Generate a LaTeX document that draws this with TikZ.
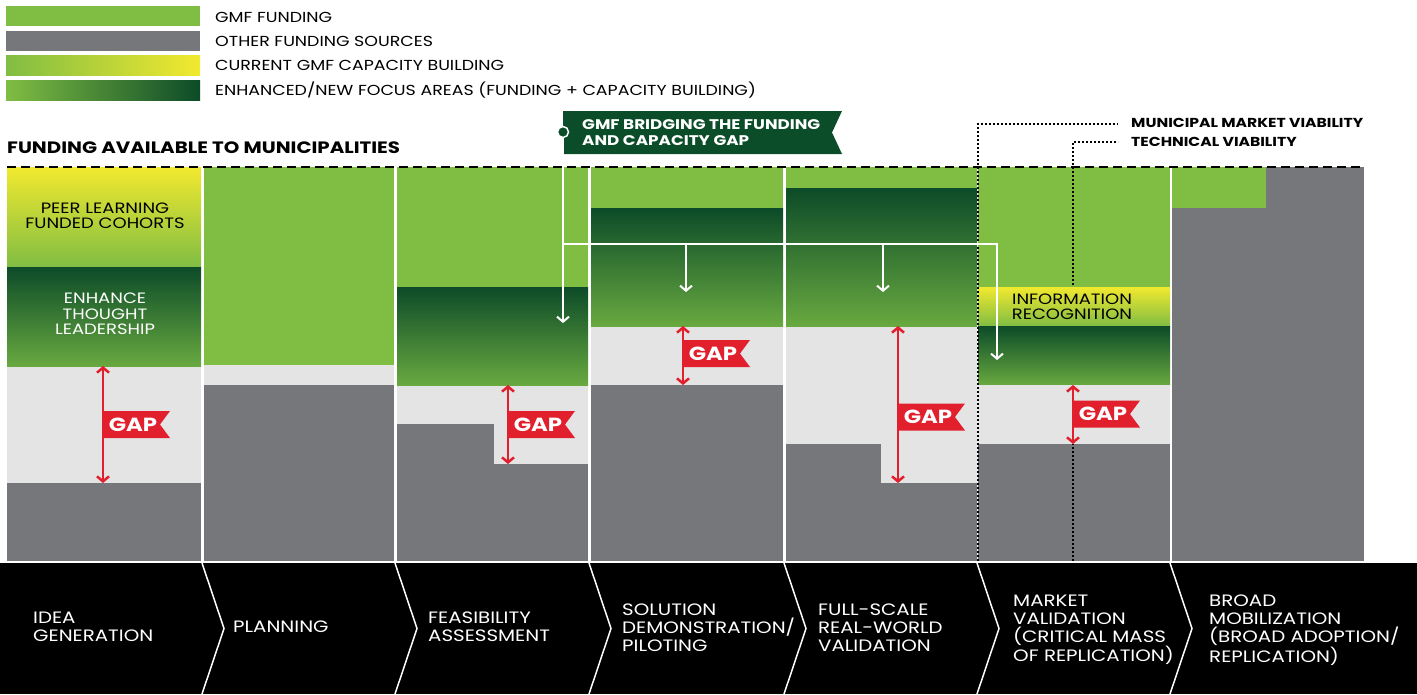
\documentclass[tikz,border=0pt]{standalone}
\usepackage{fontspec}
\setmainfont{Poppins}[FakeStretch=1.2]
\usetikzlibrary{arrows.meta}
\definecolor{gmfgreen}{HTML}{80BD43}
\definecolor{ogray}{HTML}{75777B}
\definecolor{lgray}{HTML}{E4E4E4}
\definecolor{dgreen}{HTML}{0C4B28}
\definecolor{mgreen}{HTML}{68A940}
\definecolor{yel}{HTML}{F2E92F}
\definecolor{gred}{HTML}{E21F2C}
\definecolor{bgreen}{HTML}{0B4D28}
\begin{document}
\begin{tikzpicture}[x=1pt,y=-1pt,
  leg/.style={font=\fontsize{14.5}{16}\selectfont, anchor=west, inner sep=0, text=black},
  lab/.style={font=\fontsize{16.5}{18}\selectfont, text=white, align=left, anchor=west, inner sep=0},
  inlab/.style={font=\fontsize{15}{15.5}\selectfont, align=center, inner sep=0},
  vlab/.style={font=\bfseries\fontsize{13}{15}\selectfont, anchor=west, inner sep=0},
  gaptext/.style={font=\bfseries\fontsize{19}{20}\selectfont, text=white, inner sep=0},
  gaparrow/.style={draw=gred, line width=2.5pt, {Straight Barb[length=5pt,width=12pt]}-{Straight Barb[length=5pt,width=12pt]}},
  warrow/.style={draw=white, line width=2pt, -{Straight Barb[length=5pt,width=12pt]}},
  chev/.style={draw=white, line width=1.5pt},
  dotl/.style={draw=black, line width=2pt, dash pattern=on 2pt off 2pt},
  gapflag/.pic={
    \fill[gred] (0,-13.5) -- (67,-13.5) -- (57,0) -- (67,13.5) -- (0,13.5) -- cycle;
    \node[gaptext] (-t) at (30,0) {GAP};
  }
]
\useasboundingbox (0,0) rectangle (1417,694);

% ---------- legend ----------
\fill[gmfgreen] (6,6) rectangle (200,26);
\fill[ogray] (6,31) rectangle (200,51);
\shade[left color=gmfgreen,right color=yel] (6,55) rectangle (200,75);
\shade[left color=gmfgreen,right color=dgreen] (6,80) rectangle (200,100);
\node[leg] (l1) at (215,17) {GMF FUNDING};
\node[leg] (l2) at (215,41) {OTHER FUNDING SOURCES};
\node[leg] (l3) at (215,65) {CURRENT GMF CAPACITY BUILDING};
\node[leg] (l4) at (215,90) {ENHANCED/NEW FOCUS AREAS (FUNDING + CAPACITY BUILDING)};

% ---------- header ----------
\node[font=\bfseries\fontsize{16.5}{18}\selectfont, anchor=west, inner sep=0] (hdr) at (7,148) {FUNDING AVAILABLE TO MUNICIPALITIES};

% ---------- column 1 ----------
\fill[lgray] (7,167) rectangle (201,561);
\shade[top color=yel,bottom color=gmfgreen] (7,167) rectangle (201,267);
\shade[top color=dgreen,bottom color=mgreen] (7,267) rectangle (201,366);
\fill[ogray] (7,483) rectangle (201,561);
% ---------- column 2 ----------
\fill[lgray] (204,167) rectangle (394,561);
\fill[gmfgreen] (204,167) rectangle (394,365);
\fill[ogray] (204,385) rectangle (394,561);
% ---------- column 3 ----------
\fill[lgray] (397,167) rectangle (588,561);
\fill[gmfgreen] (397,167) rectangle (588,287);
\shade[top color=dgreen,bottom color=mgreen] (397,287) rectangle (588,385);
\fill[ogray] (397,424) rectangle (494,561);
\fill[ogray] (494,464) rectangle (588,561);
% ---------- column 4 ----------
\fill[lgray] (591,167) rectangle (783,561);
\fill[gmfgreen] (591,167) rectangle (783,208);
\shade[top color=dgreen,bottom color=mgreen] (591,208) rectangle (783,326);
\fill[ogray] (591,385) rectangle (783,561);
% ---------- column 5 ----------
\fill[lgray] (786,167) rectangle (977,561);
\fill[gmfgreen] (786,167) rectangle (977,188);
\shade[top color=dgreen,bottom color=mgreen] (786,188) rectangle (977,326);
\fill[ogray] (786,444) rectangle (881,561);
\fill[ogray] (881,483) rectangle (977,561);
% ---------- column 6 ----------
\fill[lgray] (978,167) rectangle (1170,561);
\fill[gmfgreen] (978,167) rectangle (1170,287);
\fill[ogray] (978,444) rectangle (1170,561);
\coordinate (tvb) at (1073,561);
\coordinate (tvc) at (1073,142);
\coordinate (tve) at (1118,142);
\draw[dotl] (tvb) -- (tvc) -- (tve);
\shade[top color=yel,bottom color=gmfgreen] (978,287) rectangle (1170,326);
\shade[top color=dgreen,bottom color=mgreen] (978,326) rectangle (1170,385);
\fill[lgray] (978,385) rectangle (1170,444);
% ---------- column 7 ----------
\fill[ogray] (1172,167) rectangle (1364,561);
\fill[gmfgreen] (1172,167) rectangle (1266,208);

% ---------- in-chart labels ----------
\node[inlab, text=black] (peer) at (105,216) {PEER LEARNING\\FUNDED COHORTS};
\node[inlab, text=white] (enh) at (105,314) {ENHANCE\\THOUGHT\\LEADERSHIP};
\node[inlab, text=black] (info) at (1072,307) {INFORMATION\\RECOGNITION};

% ---------- top dashed line ----------
\coordinate (dl) at (7,167);
\coordinate (dr) at (1364,167);
\draw[black, line width=2.5pt, dash pattern=on 9pt off 5pt] (dl) -- (dr);

% ---------- viability dotted lines ----------
\coordinate (mvb) at (977.5,561);
\coordinate (mvc) at (977.5,124);
\coordinate (mve) at (1118,124);
\draw[dotl] (mvb) -- (mvc) -- (mve);
\node[vlab] (mv) at (1131,123) {MUNICIPAL MARKET VIABILITY};
\node[vlab] (tv) at (1131,142) {TECHNICAL VIABILITY};

% ---------- banner ----------
\fill[bgreen] (563,111) -- (842,111) -- (832,132.5) -- (842,154) -- (563,154) -- cycle;
\node[font=\bfseries\fontsize{14}{16}\selectfont, text=white, align=left, anchor=west, inner sep=0] (ban) at (582,132.5) {GMF BRIDGING THE FUNDING\\AND CAPACITY GAP};
\node[circle, draw=white, fill=bgreen, line width=1.5pt, minimum size=11pt, inner sep=0] (circ) at (563,132) {};

% ---------- white arrows ----------
\coordinate (hub) at (563,244);
\coordinate (a3) at (563,323);
\coordinate (b4) at (686,244);
\coordinate (a4) at (686,292);
\coordinate (b5) at (883,244);
\coordinate (a5) at (883,292);
\coordinate (a6) at (997,360);
\draw[warrow] (circ.south) -- (a3);
\draw[warrow, line join=miter] (hub) -| (a6);
\draw[warrow] (b4) -- (a4);
\draw[warrow] (b5) -- (a5);

% ---------- gap arrows and flags ----------
\coordinate (g1a) at (103,366); \coordinate (g1b) at (103,483);
\coordinate (g3a) at (508,385); \coordinate (g3b) at (508,464);
\coordinate (g4a) at (683,326); \coordinate (g4b) at (683,385);
\coordinate (g5a) at (898,326); \coordinate (g5b) at (898,483);
\coordinate (g6a) at (1073,385); \coordinate (g6b) at (1073,444);
\draw[gaparrow] (g1a) -- (g1b);
\draw[gaparrow] (g3a) -- (g3b);
\draw[gaparrow] (g4a) -- (g4b);
\draw[gaparrow] (g5a) -- (g5b);
\draw[gaparrow] (g6a) -- (g6b);
\pic (f1) at (103,424.5) {gapflag};
\pic (f3) at (508,424.5) {gapflag};
\pic (f4) at (683,353.5) {gapflag};
\pic (f5) at (898,417) {gapflag};
\pic (f6) at (1073,414) {gapflag};

% ---------- bottom stage band ----------
\fill[black] (0,563) rectangle (1417,694);
\foreach \cx/\nm in {202/c1,395/c2,589/c3,784/c4,977/c5,1170/c6}{
  \coordinate (\nm t) at (\cx,563);
  \coordinate (\nm m) at (\cx+22,628.5);
  \coordinate (\nm b) at (\cx,694);
  \draw[chev, line join=miter] (\nm t) -- (\nm m) -- (\nm b);
}
\node[lab] (s1) at (33,627) {IDEA\\GENERATION};
\node[lab] (s2) at (233,627) {PLANNING};
\node[lab] (s3) at (428,627) {FEASIBILITY\\ASSESSMENT};
\node[lab] (s4) at (622,628) {SOLUTION\\DEMONSTRATION/\\PILOTING};
\node[lab] (s5) at (818,628) {FULL-SCALE\\REAL-WORLD\\VALIDATION};
\node[lab] (s6) at (1013,630) {MARKET\\VALIDATION\\(CRITICAL MASS\\OF REPLICATION)};
\node[lab] (s7) at (1209,630) {BROAD\\MOBILIZATION\\(BROAD ADOPTION/\\REPLICATION)};
\end{tikzpicture}
\end{document}
